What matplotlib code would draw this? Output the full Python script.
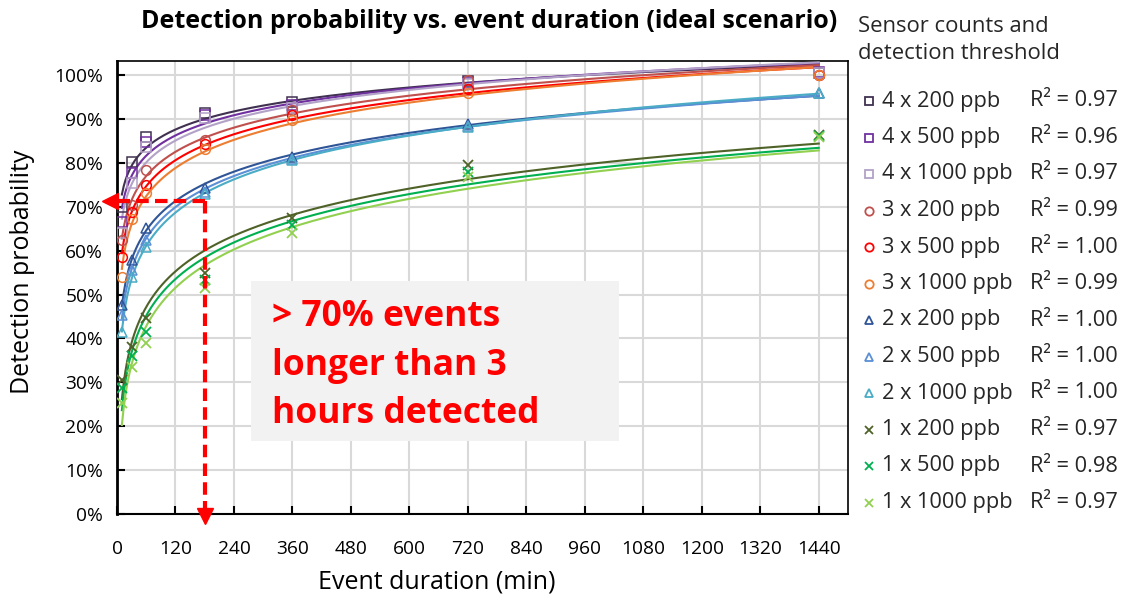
import numpy as np
import matplotlib.pyplot as plt
from matplotlib.lines import Line2D
from matplotlib.patches import Rectangle

plt.rcParams['font.family'] = ['Open Sans', 'DejaVu Sans']

# event durations (min)
durations = [10, 30, 60, 180, 360, 720, 1440]

labels = ["4 x 200 ppb", "4 x 500 ppb", "4 x 1000 ppb",
          "3 x 200 ppb", "3 x 500 ppb", "3 x 1000 ppb",
          "2 x 200 ppb", "2 x 500 ppb", "2 x 1000 ppb",
          "1 x 200 ppb", "1 x 500 ppb", "1 x 1000 ppb"]
r2_labels = ["0.97", "0.96", "0.97", "0.99", "1.00", "0.99",
             "1.00", "1.00", "1.00", "0.97", "0.98", "0.97"]

# detection probability (%) per series
s4_200 = [70.0, 80.2, 85.9, 91.4, 93.9, 98.6, 100.4]
s4_500 = [66.5, 77.7, 84.8, 90.8, 93.2, 98.2, 100.6]
s4_1000 = [64.0, 75.5, 83.5, 90.2, 92.6, 98.0, 100.5]
s3_200 = [62.4, 70.5, 78.4, 85.2, 92.0, 98.8, 100.0]
s3_500 = [58.6, 68.9, 75.0, 84.4, 90.9, 96.8, 100.0]
s3_1000 = [54.0, 67.2, 73.1, 83.1, 89.7, 96.0, 100.0]
s2_200 = [47.6, 57.9, 65.1, 74.2, 81.4, 88.8, 95.9]
s2_500 = [45.3, 55.6, 62.4, 73.4, 80.9, 88.4, 95.9]
s2_1000 = [41.5, 54.0, 60.9, 72.9, 80.6, 88.2, 95.9]
s1_200 = [30.5, 38.1, 44.6, 54.9, 67.4, 79.5, 86.3]
s1_500 = [28.7, 36.0, 41.5, 53.3, 65.8, 78.0, 86.1]
s1_1000 = [25.3, 33.6, 39.0, 51.5, 64.0, 76.8, 86.0]

series = [s4_200, s4_500, s4_1000, s3_200, s3_500, s3_1000,
          s2_200, s2_500, s2_1000, s1_200, s1_500, s1_1000]
colors = ["#403151", "#7030a0", "#b3a2c7",
          "#c0504d", "#ff0000", "#ed7d31",
          "#2f5597", "#5b8fd6", "#4bacc6",
          "#4f6228", "#00b050", "#92d050"]
markers = ["s"] * 3 + ["o"] * 3 + ["^"] * 3 + ["x"] * 3

fig = plt.figure(figsize=(11.23, 5.97), dpi=100)
ax = fig.add_axes([0.1042, 0.139, 0.6509, 0.7588])

x = np.array(durations, dtype=float)
xfit = np.linspace(x.min(), x.max(), 400)
for vals, c, m in zip(series, colors, markers):
    y = np.array(vals) / 100
    # logarithmic trendline, like Excel
    a, b = np.polyfit(np.log(x), y, 1)
    ax.plot(xfit, a * np.log(xfit) + b, color=c, lw=1.5, zorder=3)
    if m == "x":
        ax.plot(x, y, ls="none", marker=m, ms=7, mew=1.3, color=c, zorder=4)
    else:
        ax.plot(x, y, ls="none", marker=m, ms=7, mew=1.1, mfc="none",
                mec=c, zorder=4)

ax.set_xlim(0, 1500)
ax.set_ylim(0, 1.032)
ax.set_xticks(np.arange(0, 1441, 120))
ax.set_yticks(np.arange(0, 1.01, 0.1))
ax.set_yticklabels([f"{int(round(v * 100))}%" for v in np.arange(0, 1.01, 0.1)])
ax.grid(color="#d9d9d9", lw=1.5, zorder=0)
ax.set_axisbelow(True)
ax.tick_params(axis="both", direction="in", length=6, width=1.5,
               labelsize=13.8, colors="black")
ax.tick_params(axis="x", pad=19)
ax.tick_params(axis="y", pad=10)
for sp in ax.spines.values():
    sp.set_color("black")
    sp.set_linewidth(1.2)
ax.spines["left"].set_linewidth(2)
ax.spines["bottom"].set_linewidth(1.5)

fig.text(437 / 1123, 1 - 582 / 597, "Event duration (min)", fontsize=18,
         ha="center", va="center")
fig.text(23 / 1123, 1 - 272 / 597, "Detection probability", fontsize=18,
         ha="center", va="center", rotation=90)
fig.text(489 / 1123, 1 - 22 / 597,
         "Detection probability vs. event duration (ideal scenario)",
         fontsize=18, fontweight="bold", ha="center", va="center")

# red dashed guide arrows at 3 hours / 70 %
ax.plot([180, -12], [0.713, 0.713], color="red", lw=3, ls=(0, (3, 1.5)),
        clip_on=False, zorder=5)
ax.plot([180, 180], [0.713, 0.0], color="red", lw=3, ls=(0, (3, 1.5)),
        clip_on=False, zorder=5)
ax.plot([-14], [0.713], marker="<", ms=11, color="red", clip_on=False, zorder=6)
ax.plot([180], [-0.005], marker="v", ms=11, color="red", clip_on=False, zorder=6)

ax.add_patch(Rectangle((275, 0.166), 756, 0.365, fc="#f2f2f2", ec="none",
                       zorder=5))
ax.text(318, 0.338, "> 70% events\nlonger than 3\nhours detected",
        color="red", fontsize=25.5, fontweight="bold", ha="left", va="center",
        linespacing=1.45, zorder=6)

# custom legend on the right
fig.text(858 / 1123, 1 - 40 / 597, "Sensor counts and\ndetection threshold",
         fontsize=15.8, ha="left", va="center", color="#262626",
         linespacing=1.4)
for i, (lab, r2, c, m) in enumerate(zip(labels, r2_labels, colors, markers)):
    yy = 1 - (101 + 36.5 * i) / 597
    if m == "x":
        mk = Line2D([869 / 1123], [yy], marker=m, ms=6, mew=1.3, color=c,
                    transform=fig.transFigure)
    else:
        mk = Line2D([869 / 1123], [yy], marker=m, ms=6, mew=1.3, mfc="none",
                    mec=c, transform=fig.transFigure)
    fig.add_artist(mk)
    fig.text(882 / 1123, yy, lab, fontsize=15.7, ha="left", va="center",
             color="#262626")
    fig.text(1030 / 1123, yy, f"R² = {r2}", fontsize=15.7, ha="left",
             va="center", color="#262626")

plt.savefig("out.png", dpi=100)
